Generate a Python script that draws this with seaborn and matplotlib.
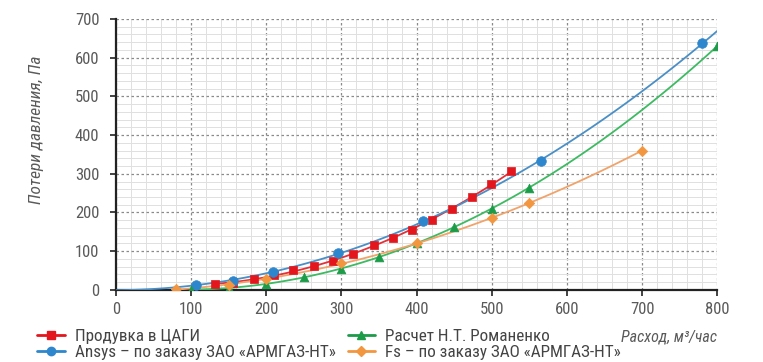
import seaborn as sns
import pandas as pd
import matplotlib.pyplot as plt
from matplotlib.lines import Line2D
from matplotlib.ticker import MultipleLocator

# Продувка в ЦАГИ
tsagi_x = [132, 156, 184, 210, 236, 263, 289, 315, 343, 368, 394, 420, 447, 474, 499, 526]
tsagi_y = [15, 17, 28, 39, 52, 63, 76, 92, 115, 133, 156, 180, 209, 240, 273, 307]

# Ansys
ansys_x = [107, 156, 209, 295, 409, 566, 780]
ansys_y = [13, 24, 47, 96, 178, 333, 637]

# Расчет Н.Т. Романенко
roman_x = [100, 150, 200, 250, 300, 350, 400, 450, 500, 550, 800]
roman_y = [0, 5, 16, 34, 55, 85, 122, 162, 210, 263, 630]

# Fs
fs_x = [80, 150, 200, 300, 400, 500, 550, 700]
fs_y = [2, 13, 28, 70, 120, 185, 225, 360]

labels = ["Продувка в ЦАГИ", "Ansys – по заказу ЗАО «АРМГАЗ-НТ»",
          "Расчет Н.Т. Романенко", "Fs – по заказу ЗАО «АРМГАЗ-НТ»"]

sns.set_style("white")
plt.rcParams['font.family'] = ['Roboto Condensed', 'Roboto', 'DejaVu Sans']

series = [
    (tsagi_x, tsagi_y, "#e3161d", "#e3313a", "s", 36, True),
    (ansys_x, ansys_y, "#2e86cc", "#4a8fc6", "o", 48, False),
    (roman_x, roman_y, "#1c9b49", "#3dba62", "^", 40, True),
    (fs_x, fs_y, "#f2963f", "#f0a36a", "D", 28, True),
]

fig = plt.figure(figsize=(7.63, 3.62), dpi=100)
ax = fig.add_axes([0.152, 0.199, 0.788, 0.749])
ax.set_xlim(0, 800)
ax.set_ylim(0, 700)

for xs, ys, mc, lc, mk, sz, trunc in series:
    df = pd.DataFrame({"x": xs, "y": ys})
    sns.regplot(data=df, x="x", y="y", order=2, ci=None, scatter=False, truncate=trunc,
                line_kws={"color": lc, "lw": 1.3, "zorder": 3}, ax=ax)
    sns.scatterplot(data=df, x="x", y="y", color=mc, marker=mk, s=sz, edgecolor=mc,
                    linewidth=0.5, zorder=4, ax=ax, legend=False)

ax.set_xlim(0, 800)
ax.set_ylim(0, 700)
ax.xaxis.set_major_locator(MultipleLocator(100))
ax.yaxis.set_major_locator(MultipleLocator(100))
ax.xaxis.set_minor_locator(MultipleLocator(20))
ax.yaxis.set_minor_locator(MultipleLocator(20))
ax.grid(which="minor", color="#e0e0e0", lw=0.7, ls="-")
ax.grid(which="major", color="#8a8a8a", lw=0.9, ls=(0, (2, 2)))
ax.set_axisbelow(True)

for s in ["top", "right"]:
    ax.spines[s].set_visible(False)
for s in ["left", "bottom"]:
    ax.spines[s].set_color("#222222")
    ax.spines[s].set_linewidth(1.6)

ax.tick_params(which="major", length=4, width=1.2, color="#222222", labelsize=12,
               labelcolor="#5a5a5a", direction="out")
ax.tick_params(which="minor", length=0)
ax.tick_params(axis="x", pad=5)
ax.tick_params(axis="y", pad=8)
ax.tick_params(left=True, bottom=True)

ax.set_xlabel("")
ax.set_ylabel("Потери давления, Па", fontsize=12.5, color="#5a5a5a", style="italic")
ax.yaxis.set_label_coords(-0.12, 0.59)
fig.text(0.94, 0.068, "Расход, м³/час", ha="right", va="center", fontsize=11.5,
         color="#5a5a5a", style="italic")

handles = []
for xs, ys, mc, lc, mk, sz, trunc in series:
    handles.append(Line2D([], [], color=mc, lw=2, marker=mk, markersize=6 if mk != "D" else 5,
                          markeredgecolor=mc))
fig.legend(handles, labels, ncol=2, loc="upper left", bbox_to_anchor=(0.04, 0.11),
           frameon=False, fontsize=12.3, labelcolor="#444444", handlelength=1.6,
           handletextpad=0.6, columnspacing=0.7, labelspacing=0.05, borderaxespad=0)

plt.savefig("out.png", dpi=100)
